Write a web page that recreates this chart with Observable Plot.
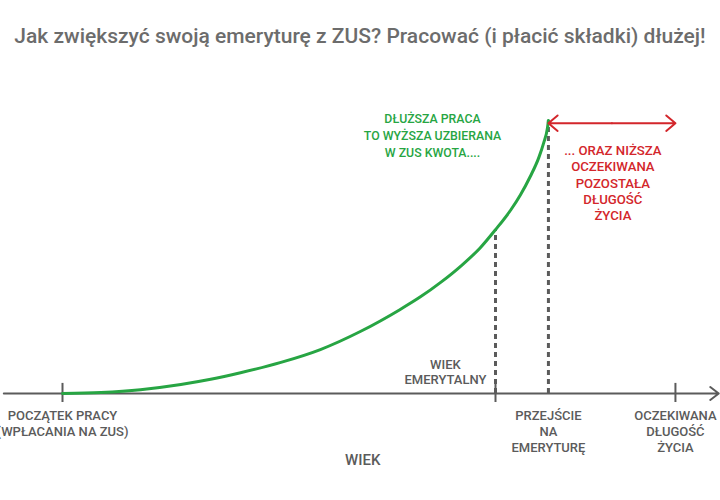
<!DOCTYPE html>
<html><head><meta charset="utf-8">
<script src="https://cdn.jsdelivr.net/npm/d3@7"></script>
<script src="https://cdn.jsdelivr.net/npm/@observablehq/plot@0.6"></script>
<style>
body{margin:0;background:#fff;font-family:Roboto,sans-serif;}
#title{height:70px;box-sizing:border-box;padding-top:24px;text-align:center;font-size:21px;font-weight:500;line-height:24px;color:#6c6c6c;white-space:nowrap;}
svg{display:block}
</style></head><body>
<div id="title"></div>
<div id="chart"></div>
<script>
const title = "Jak zwiększyć swoją emeryturę z ZUS? Pracować (i płacić składki) dłużej!";

// curve: accumulated ZUS capital vs age (schematic units, 0–100)
const curveAge   = [20, 24, 28.1, 32.3, 35.4, 38.5, 42.7, 46.8, 51.0, 55.1, 57.2, 59.3, 61.4, 63.4, 65.0, 66.6, 67.6, 68.6, 69.5, 70.0, 70.4, 70.5];
const curveValue = [0, 0.4, 1.4, 3.3, 5.2, 7.6, 11.4, 16.1, 22.8, 30.8, 35.4, 40.7, 46.7, 53.3, 60.0, 67.3, 72.8, 79.4, 86.4, 91.7, 97.3, 100];

// milestones on the age axis
const startAge = 20;
const retirementAge = 65;
const transitionAge = 70.5;
const lifeExpectancyAge = 83.7;
const retirementValue = 60.0;
const topValue = 100;
const axisFrom = 13.9, axisTo = 88.2;

const tickAges = [startAge, retirementAge, lifeExpectancyAge];
const belowLabels = ["POCZĄTEK PRACY\n(WPŁACANIA NA ZUS)", "PRZEJŚCIE\nNA\nEMERYTURĘ", "OCZEKIWANA\nDŁUGOŚĆ\nŻYCIA"];
const belowLabelAges = [startAge, transitionAge, lifeExpectancyAge];
const retirementLabel = "WIEK\nEMERYTALNY";
const axisTitle = "WIEK";
const greenLabel = "DŁUŻSZA PRACA\nTO WYŻSZA UZBIERANA\nW ZUS KWOTA....";
const redLabel = "... ORAZ NIŻSZA\nOCZEKIWANA\nPOZOSTAŁA\nDŁUGOŚĆ\nŻYCIA";

document.getElementById("title").textContent = title;

const curve = curveAge.map((a, i) => ({age: a, value: curveValue[i]}));
const ticks = tickAges.map(a => ({age: a}));
const below = belowLabelAges.map((a, i) => ({age: a, label: belowLabels[i]}));
const dashes = [
  {age: retirementAge, top: retirementValue},
  {age: transitionAge, top: topValue}
];
const mid = (transitionAge + lifeExpectancyAge) / 2;
const redArrows = [
  {x1: mid, x2: transitionAge, y: 99},
  {x1: mid, x2: lifeExpectancyAge, y: 99}
];
const axisLine = [{x1: axisFrom, x2: axisTo, y: 0}];

const gray = "#5b5b5b";
const green = "#27a543";
const red = "#d3262b";

const chart = Plot.plot({
  width: 720,
  height: 430,
  margin: 0,
  x: {domain: [20, 65], range: [62, 495], axis: null},
  y: {domain: [0, 100], range: [323, 50], axis: null},
  style: {fontFamily: "Roboto, sans-serif", background: "white", overflow: "visible"},
  marks: [
    Plot.arrow(axisLine, {x1: "x1", x2: "x2", y1: "y", y2: "y", stroke: gray, strokeWidth: 2, headLength: 8, headAngle: 75}),
    Plot.ruleX(ticks, {x: "age", y1: -3.3, y2: 3.7, stroke: gray, strokeWidth: 2}),
    Plot.ruleX(dashes, {x: "age", y1: 0, y2: "top", stroke: gray, strokeWidth: 3, strokeDasharray: "5,4"}),
    Plot.line(curve, {x: "age", y: "value", stroke: green, strokeWidth: 3, curve: "monotone-x"}),
    Plot.arrow(redArrows, {x1: "x1", x2: "x2", y1: "y", y2: "y", stroke: red, strokeWidth: 2, headLength: 9, headAngle: 80}),
    Plot.text(below, {x: "age", y: 0, text: "label", dy: 15, lineAnchor: "top", lineHeight: 1.23, fontSize: 13, fontWeight: 500, fill: gray}),
    Plot.text([retirementLabel], {x: 59.8, y: 7.9, text: d => d, lineAnchor: "middle", lineHeight: 1.15, fontSize: 13, fontWeight: 500, fill: gray}),
    Plot.text([axisTitle], {x: 51.2, y: -24.5, text: d => d, fontSize: 15, fontWeight: 500, fill: gray}),
    Plot.text([greenLabel], {x: 58.45, y: 95, text: d => d, lineAnchor: "middle", lineHeight: 1.38, fontSize: 12.3, fontWeight: 500, fill: green}),
    Plot.text([redLabel], {x: 77.2, y: 77.3, text: d => d, lineAnchor: "middle", lineHeight: 1.23, fontSize: 13.2, fontWeight: 500, fill: red})
  ]
});
document.getElementById("chart").appendChild(chart);
</script>
</body></html>
